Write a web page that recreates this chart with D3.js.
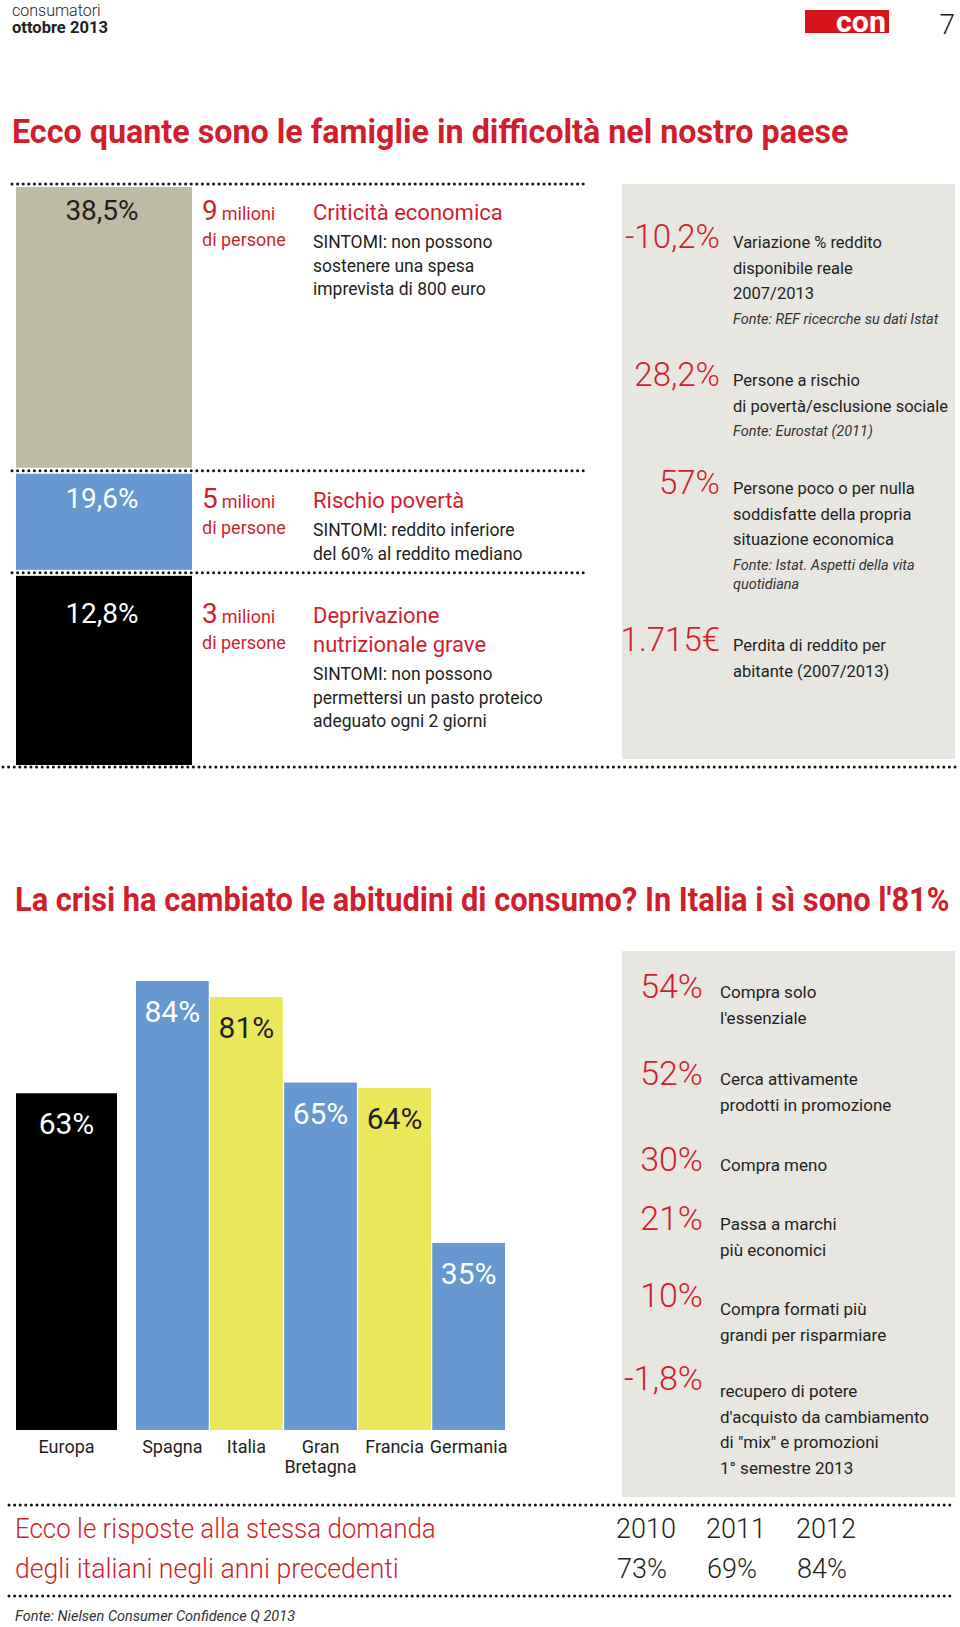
<!DOCTYPE html>
<html><head><meta charset="utf-8">
<script src="https://cdn.jsdelivr.net/npm/d3@7"></script>
<style>html,body{margin:0;padding:0;background:#fff;} svg{display:block;font-family:Roboto,"Open Sans",sans-serif;}</style>
</head><body><svg id="chart" width="960" height="1627"></svg>
<script>
// ---------- data ----------
const headerSection = "consumatori";
const headerDate = "ottobre 2013";
const logoText = "con";
const pageNumber = "7";
const title1 = "Ecco quante sono le famiglie in difficoltà nel nostro paese";
const title2 = "La crisi ha cambiato le abitudini di consumo? In Italia i sì sono l'81%";

const hardshipValues = [38.5, 19.6, 12.8];
const hardshipLabels = ["38,5%", "19,6%", "12,8%"];
const hardshipMillions = ["9", "5", "3"];
const hardshipTitles = [["Criticità economica"], ["Rischio povertà"], ["Deprivazione", "nutrizionale grave"]];
const hardshipSymptoms = [
  ["SINTOMI: non possono", "sostenere una spesa", "imprevista di 800 euro"],
  ["SINTOMI: reddito inferiore", "del 60% al reddito mediano"],
  ["SINTOMI: non possono", "permettersi un pasto proteico", "adeguato ogni 2 giorni"]
];

const incomeStatValues = ["-10,2%", "28,2%", "57%", "1.715€"];
const incomeStatTexts = [
  ["Variazione % reddito", "disponibile reale", "2007/2013"],
  ["Persone a rischio", "di povertà/esclusione sociale"],
  ["Persone poco o per nulla", "soddisfatte della propria", "situazione economica"],
  ["Perdita di reddito per", "abitante (2007/2013)"]
];
const incomeStatSources = [
  ["Fonte: REF ricecrche su dati Istat"],
  ["Fonte: Eurostat (2011)"],
  ["Fonte: Istat. Aspetti della vita", "quotidiana"],
  []
];

const europeLabel = "Europa";
const europeValue = 63;
const countries = ["Spagna", "Italia", "Gran Bretagna", "Francia", "Germania"];
const countryValues = [84, 81, 65, 64, 35];

const habitValues = ["54%", "52%", "30%", "21%", "10%", "-1,8%"];
const habitTexts = [
  ["Compra solo", "l'essenziale"],
  ["Cerca attivamente", "prodotti in promozione"],
  ["Compra meno"],
  ["Passa a marchi", "più economici"],
  ["Compra formati più", "grandi per risparmiare"],
  ["recupero di potere", "d'acquisto da cambiamento", "di \"mix\" e promozioni", "1° semestre 2013"]
];

const historyQuestion = ["Ecco le risposte alla stessa domanda", "degli italiani negli anni precedenti"];
const years = ["2010", "2011", "2012"];
const yearValues = ["73%", "69%", "84%"];
const sourceNote = "Fonte: Nielsen Consumer Confidence Q 2013";

// ---------- styles ----------
const RED = "#cf1f2e", INK = "#231f20", PANEL = "#e7e6e1";
const BEIGE = "#bdbba4", BLUE = "#6699cf", YELLOW = "#ebe75a", BLACK = "#000";

const svg = d3.select("#chart");

function dots(y, x1, x2) {
  svg.append("line").attr("x1", x1).attr("x2", x2).attr("y1", y).attr("y2", y)
    .attr("stroke", "#111").attr("stroke-width", 3).attr("stroke-linecap", "round")
    .attr("stroke-dasharray", "0 5.6");
}
function txt(x, y, s, size, opts = {}) {
  const t = svg.append("text").attr("x", x).attr("y", y).text(s)
    .attr("font-size", size).attr("fill", opts.fill || INK)
    .attr("font-weight", opts.weight || 400)
    .attr("text-anchor", opts.anchor || "start");
  if (opts.italic) t.attr("font-style", "italic");
  if (opts.len) {
    // squeeze horizontally to the target width with a transform
    t.attr("x", 0).attr("y", 0);
    const natural = t.node().getComputedTextLength();
    const k = opts.len / natural;
    t.attr("transform", `translate(${x},${y}) scale(${k},1)`);
  }
  return t;
}

// ---------- header ----------
txt(12, 16, headerSection, 16, { weight: 300 });
txt(12, 33, headerDate, 16, { weight: 700, len: 96 });
svg.append("rect").attr("x", 805).attr("y", 10).attr("width", 84).attr("height", 23).attr("fill", "#d7141e");
txt(836, 32, logoText, 30, { fill: "#fff", weight: 700, len: 50 });
txt(955, 34, pageNumber, 28, { weight: 300, anchor: "end" });

txt(12, 143, title1, 33, { fill: RED, weight: 700, len: 837 });

// ---------- hardship stacked column ----------
const hy = d3.scaleLinear().domain([0, d3.max(hardshipValues)]).range([765, 187]);
const segColors = [BEIGE, BLUE, BLACK];
const labelColors = [INK, "#fff", "#fff"];
hardshipValues.forEach((v, i) => {
  const top = hy(v) + (i > 0 ? 3 : 0);
  const bottom = i < hardshipValues.length - 1 ? hy(hardshipValues[i + 1]) - 3 : hy(0);
  svg.append("rect").attr("x", 16).attr("width", 176).attr("y", top).attr("height", bottom - top).attr("fill", segColors[i]);
});
hardshipValues.forEach((v, i) => dots(hy(v) - (i === 0 ? 3 : 0), 12, 586));
dots(767, 3, 955);

const rowBase = [220, 508, 623];
hardshipValues.forEach((v, i) => {
  const b = rowBase[i];
  txt(102, b, hardshipLabels[i], 28, { fill: labelColors[i], anchor: "middle" });
  const n = txt(202, b, hardshipMillions[i], 28, { fill: RED });
  n.append("tspan").attr("dx", 4).attr("font-size", 18).text("milioni");
  txt(202, b + 26, "di persone", 18, { fill: RED });
  hardshipTitles[i].forEach((s, j) => txt(313, b + j * 29, s, 22, { fill: RED }));
  const sStart = b + (hardshipTitles[i].length - 1) * 29 + 28;
  hardshipSymptoms[i].forEach((s, j) => txt(313, sStart + j * 23.5, s, 17.5));
});

// ---------- right panel 1 ----------
svg.append("rect").attr("x", 622).attr("y", 184).attr("width", 333).attr("height", 575).attr("fill", PANEL);
const statBase = [248, 386, 494, 651];
incomeStatValues.forEach((v, i) => {
  const b = statBase[i];
  txt(720, b, v, 33, { fill: RED, weight: 300, anchor: "end" });
  incomeStatTexts[i].forEach((s, j) => txt(733, b + j * 25.5, s, 16.5));
  const srcStart = b + incomeStatTexts[i].length * 25.5;
  incomeStatSources[i].forEach((s, j) => txt(733, srcStart - 1 + j * 19, s, 14.5, { italic: true, fill: "#333" }));
});

// ---------- second section ----------
txt(15, 911, title2, 33, { fill: RED, weight: 700, len: 935 });

const by = d3.scaleLinear().domain([0, 100]).range([1430, 1430 - 534.5]);
const xEu = d3.scaleBand().domain([europeLabel]).range([16, 117]);
const xC = d3.scaleBand().domain(countries).range([136, 505]).paddingInner(0.018);
const cColor = d3.scaleOrdinal().domain(countries).range([BLUE, YELLOW, BLUE, YELLOW, BLUE]);

const bars = [{ name: europeLabel, value: europeValue, x: xEu(europeLabel), w: xEu.bandwidth(), c: BLACK }]
  .concat(countries.map((c, i) => ({ name: c, value: countryValues[i], x: xC(c), w: xC.bandwidth(), c: cColor(c) })));

bars.forEach(d => {
  svg.append("rect").attr("x", d.x).attr("y", by(d.value)).attr("width", d.w).attr("height", by(0) - by(d.value)).attr("fill", d.c);
  txt(d.x + d.w / 2, by(d.value) + 41, d.value + "%", 30, { fill: d.c === YELLOW ? INK : "#fff", anchor: "middle" });
  d.name.split(" ").forEach((s, j) => txt(d.x + d.w / 2, 1453 + j * 20, s, 18, { anchor: "middle" }));
});

// ---------- right panel 2 ----------
svg.append("rect").attr("x", 622).attr("y", 951).attr("width", 333).attr("height", 546).attr("fill", PANEL);
const habitBase = [998, 1085, 1171, 1230, 1315, 1397];
const habitValOffset = [0, 0, 0, 0, -8, -7];
habitValues.forEach((v, i) => {
  const b = habitBase[i];
  txt(703, b + habitValOffset[i], v, 34, { fill: RED, weight: 300, anchor: "end" });
  habitTexts[i].forEach((s, j) => txt(720, b + j * 25.5, s, 17));
});

// ---------- bottom table ----------
dots(1505, 9, 955);
txt(15, 1538, historyQuestion[0], 27, { fill: RED, weight: 300, len: 421 });
txt(15, 1578, historyQuestion[1], 27, { fill: RED, weight: 300, len: 384 });
const xy = d3.scalePoint().domain(years).range([616, 796]);
years.forEach((yr, i) => {
  txt(xy(yr), 1538, yr, 27, { weight: 300 });
  txt(xy(yr) + 1, 1578, yearValues[i], 27, { weight: 300 });
});
dots(1596, 9, 955);
txt(15, 1621, sourceNote, 14.5, { italic: true, fill: "#333" });
</script></body></html>
